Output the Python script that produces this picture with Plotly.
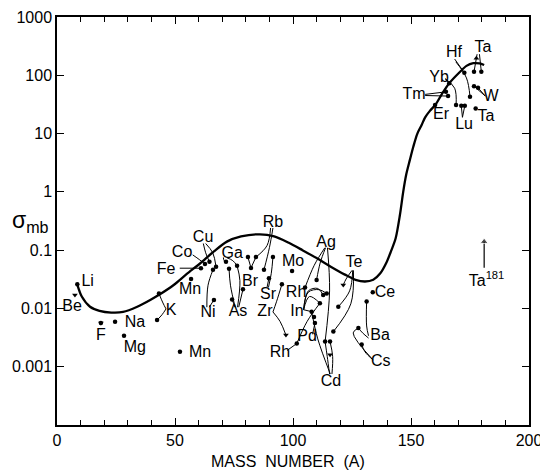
import numpy as np
import plotly.graph_objects as go

# ---------------- data ----------------
curve_A = [8.6, 10.5, 14, 18, 23, 28, 34, 39.5, 43.6, 49.3, 55, 60.6, 66.5, 72, 78, 86,
           92, 98, 104, 110, 116, 122, 126.5, 130.5, 134, 137, 139.5, 141.5, 143.5, 145.3,
           146.7, 148, 149.5, 151, 152.7, 154.5, 156, 158, 160.3, 163, 166.2, 170.8, 173.5,
           176.4, 179, 181]
curve_sigma = [0.0257, 0.016, 0.0107, 0.0091, 0.0085, 0.0087, 0.0107, 0.014, 0.0175, 0.025,
               0.039, 0.059, 0.095, 0.14, 0.172, 0.187, 0.172, 0.135, 0.1, 0.073, 0.052,
               0.038, 0.031, 0.029, 0.031, 0.04, 0.06, 0.095, 0.16, 0.4,
               1.0, 2.0, 3.5, 6.0, 10, 14, 19, 24.5, 31, 47, 73, 115, 145,
               161, 160, 150]

label_text = ["Li", "Be", "F", "Na", "Mg", "Mn", "K", "Fe", "Co", "Cu", "Mn", "Ni",
              "Ga", "As", "Br", "Rb", "Sr", "Zr", "Mo", "Rh", "Ag", "In", "Pd", "Rh",
              "Cd", "Te", "Ce", "Ba", "Cs", "Hf", "Ta", "Yb", "Tm", "Er", "Lu", "W", "Ta",
              "Ta<sup>181</sup>"]
label_A = [13.0, 6.4, 18.6, 33.0, 33.0, 60.6, 48.3, 46.2, 53.0, 61.9, 56.4, 64.0,
           74.2, 76.7, 81.8, 91.5, 89.4, 88.1, 100.0, 101.3, 114.0, 101.7, 106.0, 94.5,
           116.1, 125.8, 139.0, 136.9, 137.2, 168.2, 180.5, 161.9, 151.3, 162.7, 172.5, 183.9, 181.8,
           182.0]
label_sigma = [0.0285, 0.0106, 0.0034, 0.0056, 0.0021, 0.0017, 0.0092, 0.046, 0.089, 0.162, 0.021, 0.0082,
               0.086, 0.0087, 0.0285, 0.29, 0.017, 0.0087, 0.063, 0.0185, 0.133, 0.0087, 0.0032, 0.0017,
               0.00055, 0.060, 0.0185, 0.0033, 0.0012, 242, 294, 90, 46, 20.8, 14, 42, 19.3,
               0.0285]

point_A = [8.6, 18.6, 24.6, 28.4, 52.1, 42.4, 43.2, 61.0, 62.7, 64.6, 67.4, 56.8, 66.1, 66.5,
           71.6, 76.3, 72.9, 74.2, 78.8, 80.9, 82.2, 84.3, 87.7, 91.5, 89.8, 95.3,
           99.6, 105.1, 110.0, 113.6, 111.4, 112.8, 114.3, 107.9, 109.3, 108.9, 101.6,
           115.7, 119.2, 117.1, 133.8, 131.2, 127.7, 129.1,
           166.2, 169.1, 164.8, 165.7, 160.2, 172.6, 175.0, 176.7, 179.8, 171.3, 172.8,
           176.7, 178.4, 177.4]
point_sigma = [0.026, 0.0056, 0.0059, 0.0034, 0.0018, 0.0063, 0.018, 0.049, 0.058, 0.063, 0.052, 0.032, 0.046, 0.014,
               0.063, 0.054, 0.048, 0.0142, 0.0213, 0.076, 0.0496, 0.076, 0.046, 0.076, 0.033, 0.026,
               0.044, 0.0228, 0.0308, 0.0027, 0.0123, 0.017, 0.018, 0.0088, 0.0056, 0.0071, 0.0025,
               0.0027, 0.0107, 0.004, 0.019, 0.0131, 0.0046, 0.0024,
               73, 31, 52, 44, 31, 111, 43, 115, 115, 30, 30,
               65, 61, 27]

limit_A = [7.6, 18.6, 97.0, 121.3, 115.7, 177.7]
limit_sigma = [0.017, 0.0056, 0.0035, 0.0253, 0.0016, 196]
limit_dir = ["down", "down", "down", "down", "down", "up"]

leaders = [
    [(46.2, 0.0098), (44.9, 0.0124), (43.2, 0.018)],
    [(46.2, 0.0098), (44.5, 0.0078), (42.4, 0.0063)],
    [(52.0, 0.049), (61.0, 0.049)],
    [(57.5, 0.083), (60.5, 0.068), (62.7, 0.058)],
    [(62.0, 0.13), (63.0, 0.09), (64.6, 0.063)],
    [(63.0, 0.13), (66.0, 0.09), (67.4, 0.052)],
    [(63.5, 0.0105), (64.0, 0.025), (66.1, 0.046)],
    [(64.5, 0.0105), (66.5, 0.014)],
    [(70.5, 0.075), (70.8, 0.066), (71.6, 0.063)],
    [(72.0, 0.074), (74.5, 0.066), (76.3, 0.054)],
    [(75.5, 0.0105), (73.5, 0.025), (72.9, 0.048)],
    [(76.5, 0.0105), (77.5, 0.03), (76.3, 0.054)],
    [(75.5, 0.0105), (74.2, 0.0142)],
    [(77.0, 0.0105), (78.8, 0.0213)],
    [(80.9, 0.076), (82.2, 0.0496)],
    [(84.3, 0.076), (82.2, 0.0496)],
    [(90.5, 0.24), (89.0, 0.12), (84.3, 0.076)],
    [(91.5, 0.24), (90.0, 0.11), (87.7, 0.046)],
    [(89.6, 0.023), (90.8, 0.04), (91.5, 0.076)],
    [(89.0, 0.023), (89.8, 0.033)],
    [(91.5, 0.0087), (93.0, 0.013), (95.3, 0.026)],
    [(91.5, 0.0087), (94.5, 0.006), (97.0, 0.0035)],
    [(113.5, 0.11), (109.0, 0.055), (105.1, 0.0228)],
    [(113.8, 0.11), (111.5, 0.06), (110.0, 0.0308)],
    [(114.6, 0.11), (115.5, 0.02), (113.6, 0.0027)],
    [(104.5, 0.0095), (107.0, 0.016), (111.4, 0.0123)],
    [(104.5, 0.0095), (106.5, 0.02), (110.5, 0.022), (112.8, 0.017)],
    [(104.5, 0.0095), (106.5, 0.019), (111.0, 0.021), (114.3, 0.018)],
    [(104.5, 0.0095), (107.9, 0.0088)],
    [(108.3, 0.0036), (109.3, 0.0056)],
    [(97.5, 0.0019), (101.6, 0.0025)],
    [(101.6, 0.0025), (106.0, 0.006), (111.4, 0.0123)],
    [(115.5, 0.00075), (114.5, 0.0015), (113.6, 0.0027)],
    [(116.5, 0.00075), (116.8, 0.0015), (115.7, 0.0027)],
    [(115.8, 0.00075), (110.5, 0.003), (107.9, 0.0088)],
    [(125.0, 0.045), (122.5, 0.032), (121.3, 0.0253)],
    [(125.3, 0.045), (124.0, 0.02), (119.2, 0.0107)],
    [(125.6, 0.045), (124.5, 0.012), (117.1, 0.004)],
    [(132.0, 0.0034), (131.2, 0.005), (131.2, 0.0131)],
    [(132.0, 0.0031), (129.5, 0.0038), (127.7, 0.0046)],
    [(134.0, 0.0013), (125.5, 0.0038), (127.7, 0.0046)],
    [(134.0, 0.0013), (130.5, 0.0018), (129.1, 0.0024)],
    [(168.5, 190), (172.6, 111)],
    [(169.0, 170), (173.5, 90), (175.0, 43)],
    [(178.0, 230), (176.7, 115)],
    [(179.0, 230), (179.8, 115)],
    [(164.5, 85), (166.2, 73)],
    [(164.5, 88), (168.5, 60), (169.1, 31)],
    [(156.0, 47), (164.8, 52)],
    [(156.0, 45), (165.7, 44)],
    [(171.8, 19), (171.3, 30)],
    [(171.8, 19), (172.8, 30)],
    [(181.5, 44), (176.7, 65)],
    [(181.5, 44), (178.4, 61)],
]

arrow181_A = [181.0, 181.0]
arrow181_sigma = [0.05, 0.14]

x_ticks = [0, 50, 100, 150, 200]
y_tickvals = [0.001, 0.01, 0.1, 1, 10, 100, 1000]
y_ticktext = ["0.001", "0.01", "0.1", "1", "10", "100", "1000"]

FONT = "Liberation Sans"

# ---------------- figure ----------------
fig = go.Figure()

lx, ly = [], []
for path in leaders:
    for a, s in path:
        lx.append(a)
        ly.append(s)
    lx.append(None)
    ly.append(None)
fig.add_trace(go.Scatter(x=lx, y=ly, mode="lines", line=dict(color="black", width=1, shape="spline"),
                         connectgaps=False, hoverinfo="skip"))

fig.add_trace(go.Scatter(x=curve_A, y=curve_sigma, mode="lines",
                         line=dict(color="black", width=2.3, shape="spline", smoothing=0.8),
                         hoverinfo="skip"))

fig.add_trace(go.Scatter(x=point_A, y=point_sigma, mode="markers",
                         marker=dict(color="black", size=4.5), hoverinfo="skip"))

fig.add_trace(go.Scatter(x=limit_A, y=limit_sigma, mode="markers",
                         marker=dict(color="black", size=5,
                                     symbol=["triangle-" + d for d in limit_dir]),
                         hoverinfo="skip"))

fig.add_trace(go.Scatter(x=arrow181_A, y=arrow181_sigma, mode="lines+markers",
                         line=dict(color="black", width=1.2),
                         marker=dict(color="black", size=[0, 7], symbol="triangle-up"),
                         hoverinfo="skip"))

fig.add_trace(go.Scatter(x=label_A, y=label_sigma, mode="text", text=label_text,
                         textposition="middle center",
                         textfont=dict(family=FONT, size=16, color="black"),
                         hoverinfo="skip"))

axis_common = dict(showline=True, linecolor="black", linewidth=1.5, mirror="ticks",
                   ticks="inside", tickcolor="black", tickwidth=1.2, showgrid=False,
                   zeroline=False, automargin=False,
                   tickfont=dict(family=FONT, size=16, color="black"))

fig.update_xaxes(range=[0, 200], tickvals=x_ticks, ticklen=7,
                 minor=dict(dtick=10, tick0=0, ticks="inside", ticklen=5, tickcolor="black",
                            showgrid=False),
                 **axis_common)
fig.update_yaxes(type="log", range=[-4, 3], tickvals=y_tickvals, ticktext=y_ticktext,
                 ticklen=7, **axis_common)

fig.add_annotation(text="σ<sub>mb</sub>", xref="paper", yref="paper", x=-0.056, y=0.5,
                   showarrow=False, font=dict(family=FONT, size=23, color="black"),
                   xanchor="center", yanchor="middle")
fig.add_annotation(text="MASS  NUMBER  (A)", xref="paper", yref="paper", x=0.49, y=-0.09,
                   showarrow=False, font=dict(family=FONT, size=16, color="black"),
                   xanchor="center", yanchor="middle")

# the page body adds an 8 px offset, so the figure is 8 px smaller and the margins compensate
fig.update_layout(width=540, height=462, showlegend=False,
                  margin=dict(l=49, r=19, t=9, b=45),
                  paper_bgcolor="white", plot_bgcolor="white")

fig.write_html("out.html")
